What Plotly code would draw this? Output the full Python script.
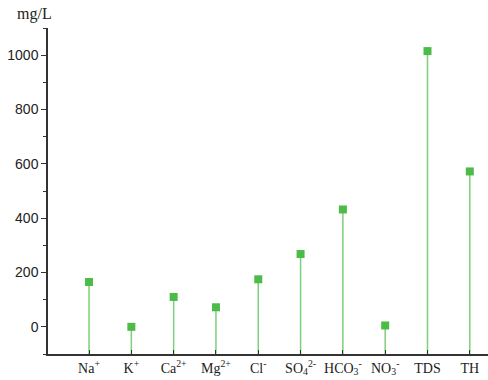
import plotly.graph_objects as go

categories = ["Na<sup>+</sup>", "K<sup>+</sup>", "Ca<sup>2+</sup>", "Mg<sup>2+</sup>", "Cl<sup>-</sup>",
              "SO<sub>4</sub><sup>2-</sup>", "HCO<sub>3</sub><sup>-</sup>", "NO<sub>3</sub><sup>-</sup>", "TDS", "TH"]
values = [165, 0, 110, 72, 175, 268, 432, 5, 1015, 572]
y_min = -100
y_max = 1100
y_ticks = [0, 200, 400, 600, 800, 1000]

idx = list(range(len(categories)))
stem_len = [v - y_min for v in values]

fig = go.Figure()
fig.add_trace(go.Scatter(
    x=idx, y=values, mode="markers",
    marker=dict(symbol="square", size=8, color="#4cbb47"),
    error_y=dict(type="data", symmetric=False, array=[0]*len(values), arrayminus=stem_len,
                 color="#7dcf7a", thickness=1.5, width=0),
    showlegend=False,
))

fig.add_annotation(text="mg/L", xref="paper", yref="paper", x=-0.03, y=1.01,
                   xanchor="center", yanchor="bottom", showarrow=False,
                   font=dict(family="Liberation Serif", size=16, color="#222"))

fig.update_layout(
    width=488, height=380,
    margin=dict(l=48, r=0, t=28, b=26),
    plot_bgcolor="white", paper_bgcolor="white",
    xaxis=dict(range=[-0.97, 9.43], tickvals=idx, ticktext=categories,
               showline=True, linecolor="#333", linewidth=1.5, ticks="inside", ticklen=4,
               tickcolor="#333", showgrid=False, zeroline=False,
               tickfont=dict(family="Liberation Serif", size=14, color="#222")),
    yaxis=dict(range=[y_min, y_max], tickvals=y_ticks,
               showline=True, linecolor="#333", linewidth=1.5, ticks="outside", ticklen=5,
               tickcolor="#333", showgrid=False, zeroline=False,
               minor=dict(ticks="outside", ticklen=3, tickcolor="#333", dtick=200, tick0=100),
               tickfont=dict(family="Liberation Sans", size=14, color="#222")),
)

fig.write_html("out.html")
